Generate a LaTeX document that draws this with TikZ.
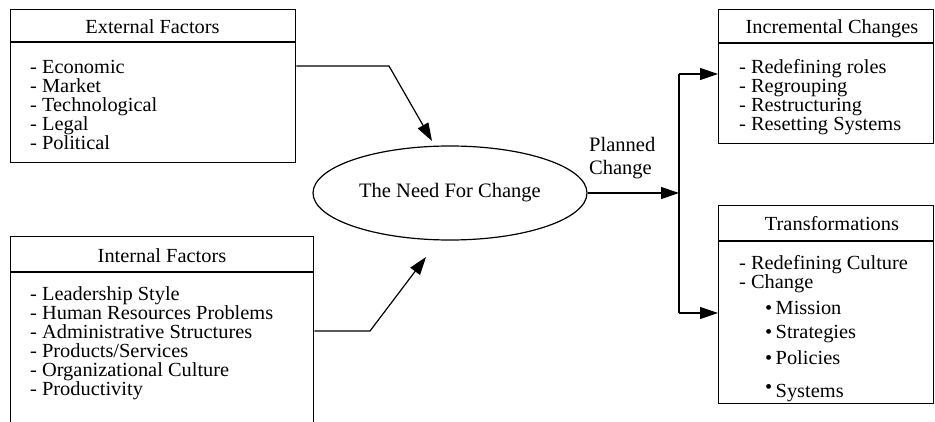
\documentclass[tikz,border=0pt]{standalone}
\usepackage{fontspec}
\setmainfont{Liberation Serif}
\newfontfamily\boxfont{Liberation Serif}[FakeStretch=1.02]
\usetikzlibrary{arrows.meta,shapes.geometric}
\newcommand\linestack[1]{\vtop{\baselineskip=19pt\lineskiplimit=-\maxdimen\lineskip=0pt\halign{##\hfil\cr#1\crcr}}}
\begin{document}
\begin{tikzpicture}[x=1pt,y=-1pt,
  box/.style={draw, line width=1.3pt, rectangle, inner sep=0pt, anchor=north west},
  conn/.style={line width=1.2pt},
  arr/.style={conn, -{Triangle[length=18pt,width=12pt]}},
  boxtext/.style={font=\boxfont\fontsize{20}{19}\selectfont, inner sep=0pt},
  hdr/.style={boxtext, anchor=base},
  lst/.style={boxtext, anchor=base west},
  bigtext/.style={font=\fontsize{20.5}{23}\selectfont}
]
\useasboundingbox (0,0) rectangle (935,422);
\clip (0,0) rectangle (935,422);

% boxes
\node[box, minimum width=285pt, minimum height=153pt] (ext) at (10,9) {};
\node[box, minimum width=303pt, minimum height=214pt] (int) at (10,236) {};
\node[box, minimum width=215pt, minimum height=134pt] (inc) at (718,9) {};
\node[box, minimum width=215pt, minimum height=198pt] (trans) at (718,205) {};

% header dividers
\draw[line width=1.3pt] ([yshift=-33pt]ext.north west) -- ([yshift=-33pt]ext.north east);
\draw[line width=1.3pt] ([yshift=-36pt]int.north west) -- ([yshift=-36pt]int.north east);
\draw[line width=1.3pt] ([yshift=-34pt]inc.north west) -- ([yshift=-34pt]inc.north east);
\draw[line width=1.3pt] ([yshift=-36pt]trans.north west) -- ([yshift=-36pt]trans.north east);

% texts
\node[hdr] (exth) at (152.5,34) {External Factors};
\node[lst] (extl) at (30,74) {\linestack{- Economic\cr- Market\cr- Technological\cr- Legal\cr- Political}};

\node[hdr] (inth) at (162,263) {Internal Factors};
\node[lst] (intl) at (30,301) {\linestack{- Leadership Style\cr- Human Resources Problems\cr- Administrative Structures\cr- Products/Services\cr- Organizational Culture\cr- Productivity}};

\node[hdr] (inch) at (832,34) {Incremental Changes};
\node[lst] (incl) at (739,74) {\linestack{- Redefining roles\cr- Regrouping\cr- Restructuring\cr- Resetting Systems}};

\node[hdr] (transh) at (832,231) {Transformations};
\node[lst] (transl) at (739,270) {\linestack{- Redefining Culture\cr- Change\cr\noalign{\vskip6pt}
\hspace*{26pt}\textbullet\,Mission\cr\noalign{\vskip6pt}
\hspace*{26pt}\textbullet\,Strategies\cr\noalign{\vskip7pt}
\hspace*{26pt}\textbullet\,Policies\cr\noalign{\vskip14pt}
\hspace*{26pt}\raisebox{4pt}{\textbullet}\,Systems}};

% ellipse
\node[draw, ellipse, line width=1.2pt, minimum width=274pt, minimum height=94pt, inner sep=0pt, bigtext] (need) at (450,193) {The Need For Change};

\node[bigtext, anchor=base west, inner sep=0pt] (pc) at (589,152) {\begin{tabular}[t]{@{}l@{}}Planned\\Change\end{tabular}};

% connectors
\coordinate (b1) at (389,66);
\coordinate (t1) at (432,141);
\draw[arr] (ext.east |- b1) -- (b1) -- (t1);

\coordinate (b2) at (370,331);
\coordinate (t2) at (426,257);
\draw[arr] (int.east |- b2) -- (b2) -- (t2);

\coordinate (sp) at (679,193);
\draw[arr] (need.east) -- (sp);

\coordinate (jt) at (679,74);
\coordinate (jb) at (679,313);
\draw[conn] (jt) -- (jb);
\draw[arr] (jt) -- (inc.west |- jt);
\draw[arr] (jb) -- (trans.west |- jb);
\end{tikzpicture}
\end{document}
